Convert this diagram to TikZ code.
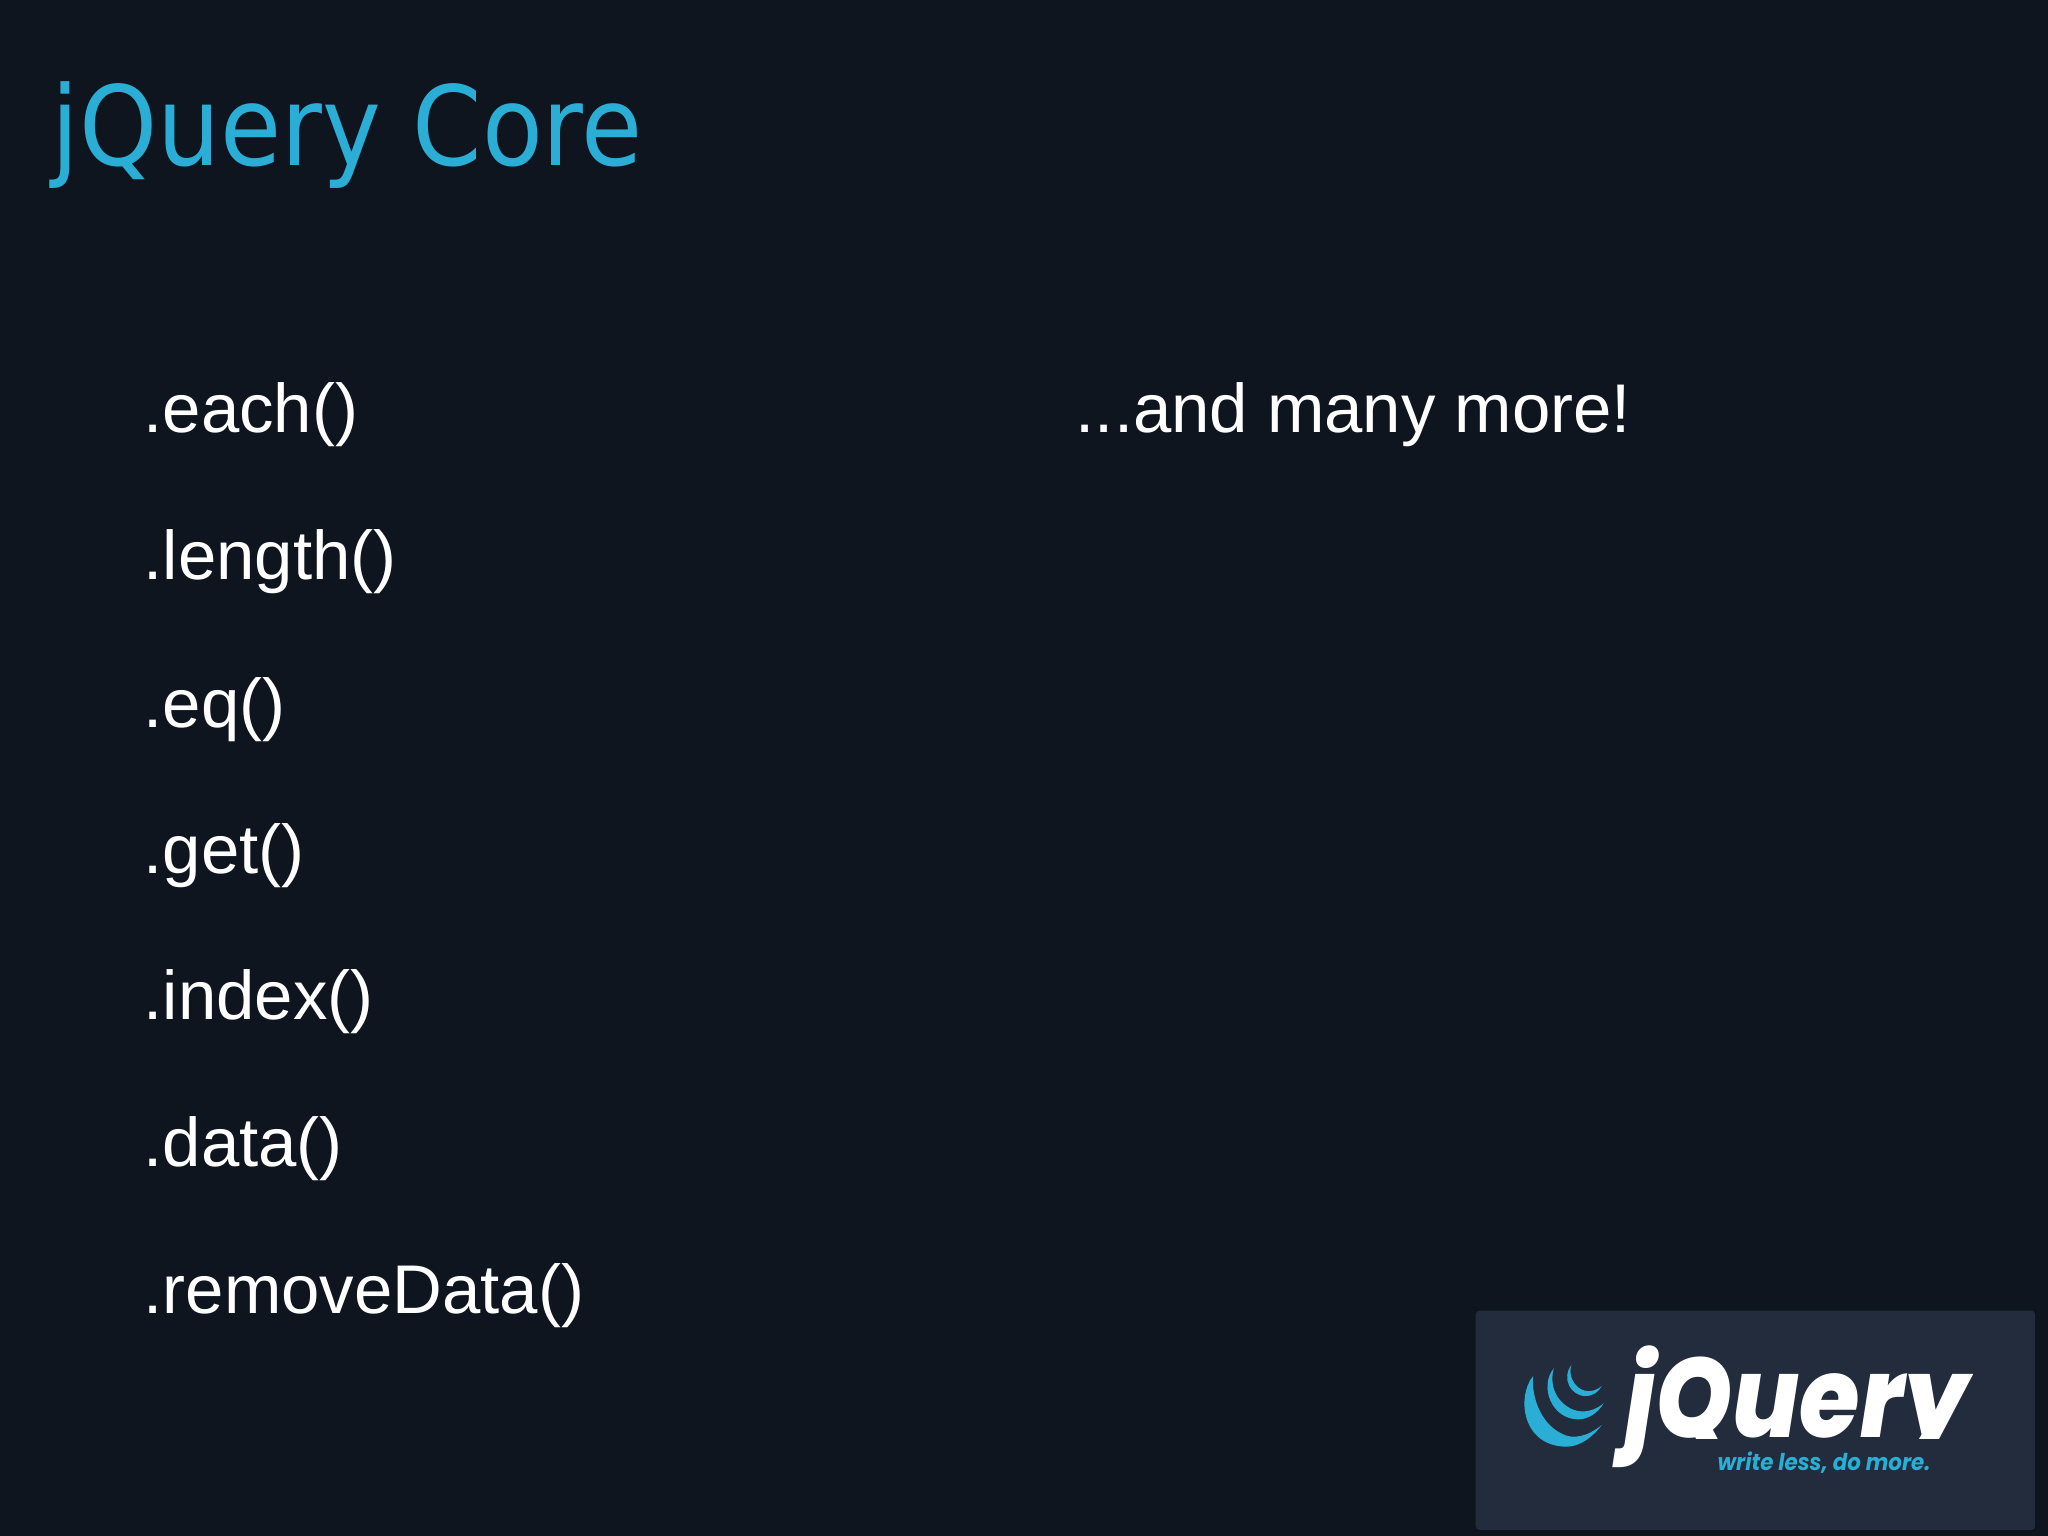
\documentclass[tikz,border=0pt]{standalone}
\usepackage{fontspec}
\setmainfont{Liberation Sans}
\newfontfamily\titlefont{DejaVu Sans Condensed}
\newfontfamily\logofont{Poppins ExtraBold Italic}
\newfontfamily\sloganfont{Poppins}
\definecolor{slidebg}{HTML}{0E151E}
\definecolor{panelbg}{HTML}{222C3C}
\definecolor{jqblue}{HTML}{2BAED6}
\tikzset{
  method/.style={anchor=base west,inner sep=0pt,text=white,font=\fontsize{19.6}{23}\selectfont},
  crescent/.style={fill=jqblue,draw=none}
}
\begin{document}
\begin{tikzpicture}
    [x=0.01cm,y=-0.01cm]
    \fill [slidebg] (0,0) rectangle (2048,1536);
    \useasboundingbox (0,0) rectangle (2048,1536);
    \node (title) at (51,165) [anchor=base west,inner sep=0pt,text=jqblue,font=\titlefont\fontsize{31.4}{38}\selectfont] {jQuery Core};
    % list of methods
    \node (each) at (143,432) [method] {.each()};
    \node (length) at (143,579) [method] {.length()};
    \node (eq) at (143,727) [method] {.eq()};
    \node (get) at (143,873) [method] {.get()};
    \node (index) at (143,1019) [method] {.index()};
    \node (dataitem) at (143,1166) [method] {.data()};
    \node (removedata) at (143,1313) [method] {.removeData()};
    \node (more) at (1075,432) [method] {...and many more!};
    % logo
    \node (panel) at (1475,1310) [anchor=north west,inner sep=0pt,minimum width=5.59cm,minimum height=2.19cm,rounded corners=1pt,fill=panelbg] {};
    \begin{scope}[shift={(1460,1300)},xscale=0.375,yscale=1/3]
      \fill [crescent] (195,228) .. controls (150,290) and (165,440) .. (285,440)
        .. controls (320,440) and (355,410) .. (378,375)
        .. controls (340,410) and (300,420) .. (270,400)
        .. controls (215,370) and (190,290) .. (195,228) -- cycle;
      \fill [crescent] (250,205) .. controls (210,260) and (245,358) .. (315,358)
        .. controls (345,358) and (370,335) .. (383,310)
        .. controls (350,340) and (310,345) .. (275,310)
        .. controls (250,285) and (240,245) .. (250,205) -- cycle;
      \fill [crescent] (297,195) .. controls (270,235) and (295,288) .. (335,288)
        .. controls (355,288) and (370,275) .. (378,258)
        .. controls (360,275) and (335,280) .. (315,262)
        .. controls (298,245) and (290,220) .. (297,195) -- cycle;
    \end{scope}
    \begin{scope}
      % only the j keeps its tail
      \clip (1600,1340) rectangle (2000,1438) (1600,1438) rectangle (1665,1480);
      \node (logoname) at (1625,1437) [anchor=base west,inner sep=0pt,text=white,font=\logofont\fontsize{32}{38}\selectfont,xscale=0.87,transform shape] {jQuery};
    \end{scope}
    \node (slogan) at (1717,1470) [anchor=base west,inner sep=0pt,text=jqblue,font=\sloganfont\bfseries\itshape\fontsize{6.6}{8}\selectfont,xscale=0.92,transform shape] {write less, do more.};
  \end{tikzpicture}
\end{document}
